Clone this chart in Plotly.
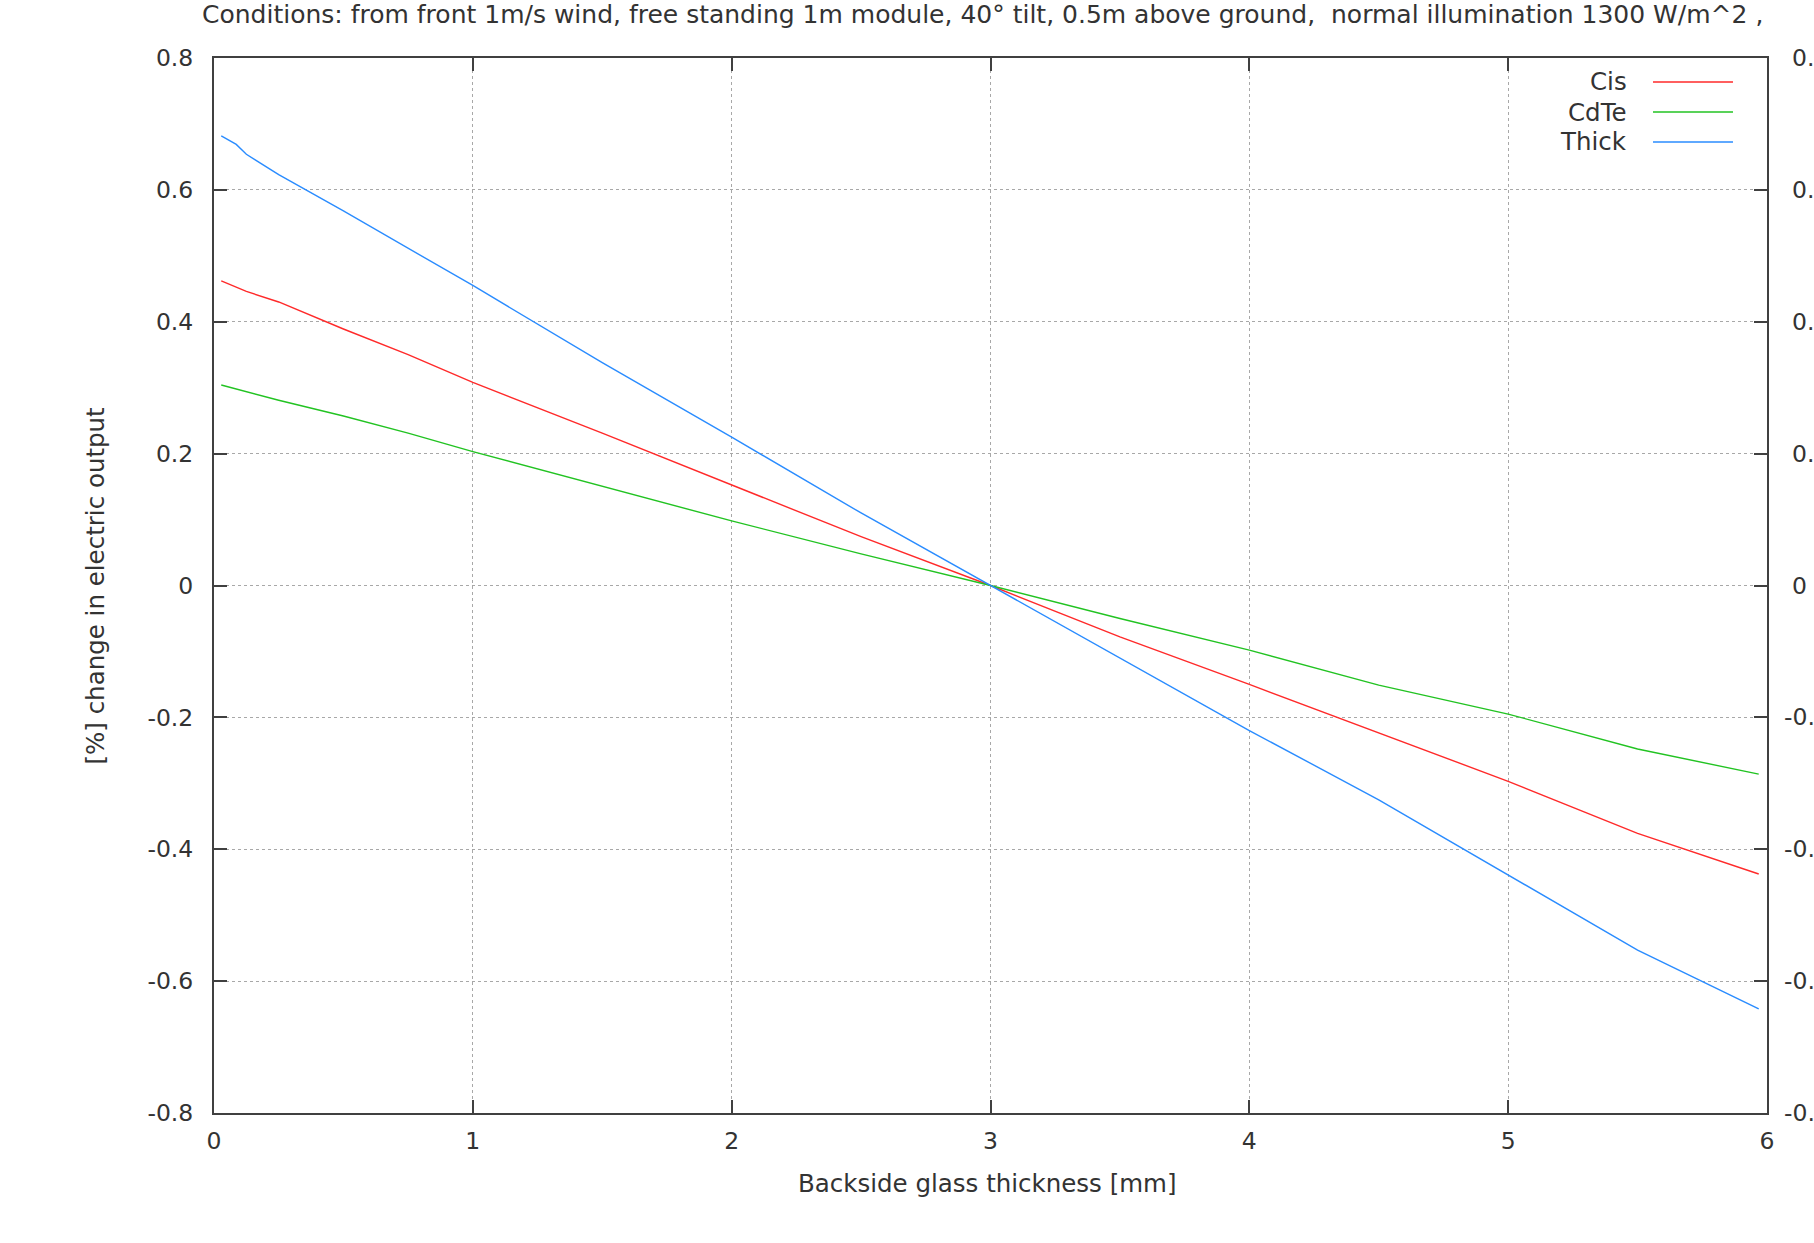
import plotly.graph_objects as go

# Backside glass thickness [mm] at which each curve was sampled
thickness_mm = [0.028, 0.086, 0.125, 0.25, 0.5, 0.75, 1.0, 1.5, 2.0, 2.5,
                3.0, 3.5, 4.0, 4.5, 5.0, 5.5, 5.968]

# [%] change in electric output per module type
cis = [0.462, 0.452, 0.446, 0.430, 0.389, 0.350, 0.308, 0.231, 0.152, 0.074,
       0.0, -0.078, -0.150, -0.224, -0.297, -0.376, -0.4375]
cdte = [0.304, 0.298, 0.294, 0.281, 0.257, 0.231, 0.203, 0.151, 0.098, 0.048,
        0.0, -0.050, -0.098, -0.151, -0.195, -0.248, -0.286]
thick = [0.682, 0.669, 0.654, 0.623, 0.568, 0.511, 0.455, 0.338, 0.225, 0.110,
         0.0, -0.110, -0.220, -0.325, -0.439, -0.553, -0.642]

series_names = ["Cis", "CdTe", "Thick"]
series_colors = ["#ff2a2a", "#22c322", "#2a8cff"]

x_ticks = [0, 1, 2, 3, 4, 5, 6]
y_ticks = [-0.8, -0.6, -0.4, -0.2, 0, 0.2, 0.4, 0.6, 0.8]
y_tick_text = ["-0.8", "-0.6", "-0.4", "-0.2", "0", "0.2", "0.4", "0.6", "0.8"]

title_text = ("Conditions: from front 1m/s wind, free standing 1m module, 40° tilt, "
              "0.5m above ground,  normal illumination 1300 W/m^2 ,")
x_title = "Backside glass thickness [mm]"
y_title = "[%] change in electric output"

FONT = "DejaVu Sans"
TEXT_COLOR = "#333333"
AXIS_COLOR = "#404040"
GRID_COLOR = "#a8a8a8"
TITLE_SIZE = 25
LABEL_SIZE = 24.5
TICK_SIZE = 23.5

fig = go.Figure()
for name, values, color in zip(series_names, [cis, cdte, thick], series_colors):
    fig.add_trace(go.Scatter(x=thickness_mm, y=values, mode="lines", name=name,
                             line=dict(color=color, width=1.4), showlegend=False))

axis_common = dict(
    showline=True, linecolor=AXIS_COLOR, linewidth=2,
    mirror="ticks", ticks="inside", ticklen=13, tickwidth=2, tickcolor=AXIS_COLOR,
    showgrid=True, gridcolor=GRID_COLOR, gridwidth=1, griddash="dot",
    zeroline=False, automargin=False,
    tickfont=dict(family=FONT, size=TICK_SIZE, color=TEXT_COLOR),
)

fig.update_layout(
    width=1814, height=1243,
    margin=dict(l=214, r=47, t=58, b=130),
    paper_bgcolor="white", plot_bgcolor="white",
    font=dict(family=FONT, size=TICK_SIZE, color=TEXT_COLOR),
    xaxis=dict(range=[0, 6], tickvals=x_ticks, ticklabelstandoff=6, **axis_common),
    yaxis=dict(range=[-0.8, 0.8], tickvals=y_ticks, ticktext=y_tick_text,
               ticklabelstandoff=14, **axis_common),
    showlegend=False,
)

annotations = [
    dict(text=title_text, xref="paper", yref="paper", x=0.495, y=1.0408,
         xanchor="center", yanchor="middle", showarrow=False,
         font=dict(family=FONT, size=TITLE_SIZE, color=TEXT_COLOR)),
    dict(text=x_title, xref="paper", yref="paper", x=0.498, y=-0.0664,
         xanchor="center", yanchor="middle", showarrow=False,
         font=dict(family=FONT, size=LABEL_SIZE, color=TEXT_COLOR)),
    dict(text=y_title, xref="paper", yref="paper", x=-0.0766, y=0.5,
         xanchor="center", yanchor="middle", showarrow=False, textangle=-90,
         font=dict(family=FONT, size=LABEL_SIZE, color=TEXT_COLOR)),
]

# mirrored tick labels along the right border; digits share one column and
# the minus sign hangs to the left of it
for val, txt in zip(y_ticks, y_tick_text):
    annotations.append(dict(text=txt, xref="paper", yref="y",
                            x=1.0 + (23 if val >= 0 else 14.5) / 1553, y=val,
                            xanchor="left", yanchor="middle", showarrow=False,
                            font=dict(family=FONT, size=TICK_SIZE, color=TEXT_COLOR)))

# key in the upper-right corner: right-aligned names followed by a line sample
key_rows_y = [0.9773, 0.9488, 0.9204]
shapes = []
for name, color, ky in zip(series_names, series_colors, key_rows_y):
    annotations.append(dict(text=name, xref="paper", yref="paper", x=0.9112, y=ky,
                            xanchor="right", yanchor="middle", showarrow=False,
                            font=dict(family=FONT, size=LABEL_SIZE, color=TEXT_COLOR)))
    shapes.append(dict(type="line", xref="paper", yref="paper",
                       x0=0.9266, x1=0.9781, y0=ky, y1=ky,
                       line=dict(color=color, width=1.6)))

fig.update_layout(annotations=annotations, shapes=shapes)

fig.write_html("out.html")
